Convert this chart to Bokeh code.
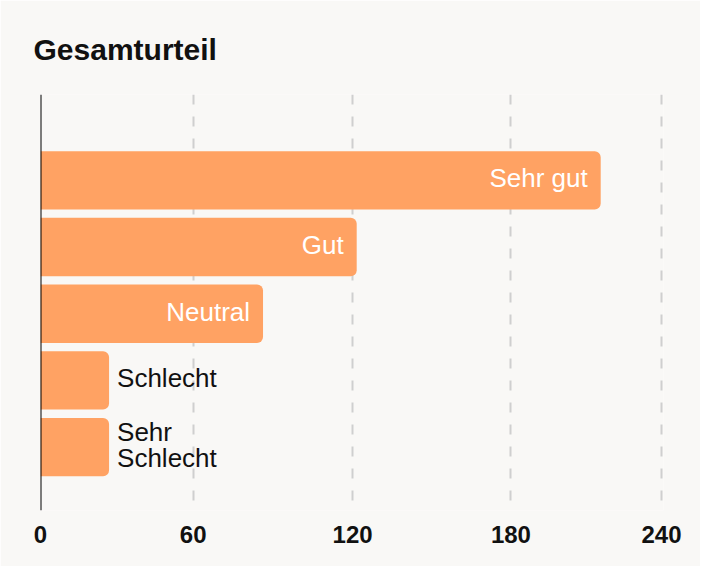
from bokeh.plotting import figure
from bokeh.models import ColumnDataSource, Range1d, FixedTicker, Span
from bokeh.core.properties import value
from bokeh.embed import file_html
from bokeh.resources import INLINE

# ---- data ----
categories = ["Sehr gut", "Gut", "Neutral", "Schlecht", "Sehr\nSchlecht"]
counts = [216.5, 122.2, 86.0, 26.5, 26.5]
tick_values = [0, 59.0, 120.6, 181.8, 240]
tick_labels = ["0", "60", "120", "180", "240"]

FONT = "Liberation Sans"
BG = "#F9F8F6"
BAR = "#FFA263"
INSIDE_MIN = 50

positions = list(range(len(categories)))
src = ColumnDataSource(dict(y=positions, value=counts, label=categories))
inside = ColumnDataSource(dict(
    y=[p for p, v in zip(positions, counts) if v >= INSIDE_MIN],
    value=[v for v in counts if v >= INSIDE_MIN],
    label=[c for c, v in zip(categories, counts) if v >= INSIDE_MIN]))
outside = ColumnDataSource(dict(
    y=[p for p, v in zip(positions, counts) if v < INSIDE_MIN],
    value=[v for v in counts if v < INSIDE_MIN],
    label=[c for c, v in zip(categories, counts) if v < INSIDE_MIN]))

p = figure(width=700, height=566,
           x_range=Range1d(0, 240.77), y_range=Range1d(4.95, -1.287),
           output_backend="svg", toolbar_location=None,
           y_axis_location=None,
           min_border_left=40, min_border_right=37,
           min_border_top=94, min_border_bottom=56)
p.background_fill_color = BG
p.border_fill_color = BG
p.outline_line_color = None

p.title.text = "Gesamturteil"
p.title.text_font = FONT
p.title.text_font_size = "30px"
p.title.text_font_style = "bold"
p.title.text_color = "#111111"
p.title.align = "left"
p.title.offset = -7
p.title.standoff = 57

ticker = FixedTicker(ticks=tick_values)
ax = p.xaxis[0]
ax.ticker = ticker
ax.major_label_overrides = {t: l for t, l in zip(tick_values, tick_labels)}
ax.axis_line_color = None
ax.major_tick_line_color = None
ax.minor_tick_line_color = None
ax.major_label_text_font = FONT
ax.major_label_text_font_size = "24px"
ax.major_label_text_font_style = "bold"
ax.major_label_text_color = "#111111"
ax.major_label_standoff = 9

p.xgrid.ticker = ticker
p.xgrid.grid_line_color = "#CFCFCF"
p.xgrid.grid_line_width = 2
p.xgrid.grid_line_dash = "10 12"
p.ygrid.visible = False

p.hbar(y="y", left=0, right="value", height=0.875, source=src,
       fill_color=BAR, line_color=None, border_radius=(0, 6, 6, 0))

p.add_layout(Span(location=0, dimension="height", line_color="#000000",
                  line_width=2))

p.text(x="value", y="y", text="label", source=inside,
       text_align="right", text_baseline="middle", x_offset=-13, y_offset=-2,
       text_color="white", text_font=value(FONT), text_font_size="26px")
p.text(x="value", y="y", text="label", source=outside,
       text_align="left", text_baseline="middle", x_offset=8, y_offset=-2,
       text_color="#111111", text_font=value(FONT), text_font_size="26px",
       text_line_height=0.85)

open("out.html", "w").write(file_html(p, INLINE))
